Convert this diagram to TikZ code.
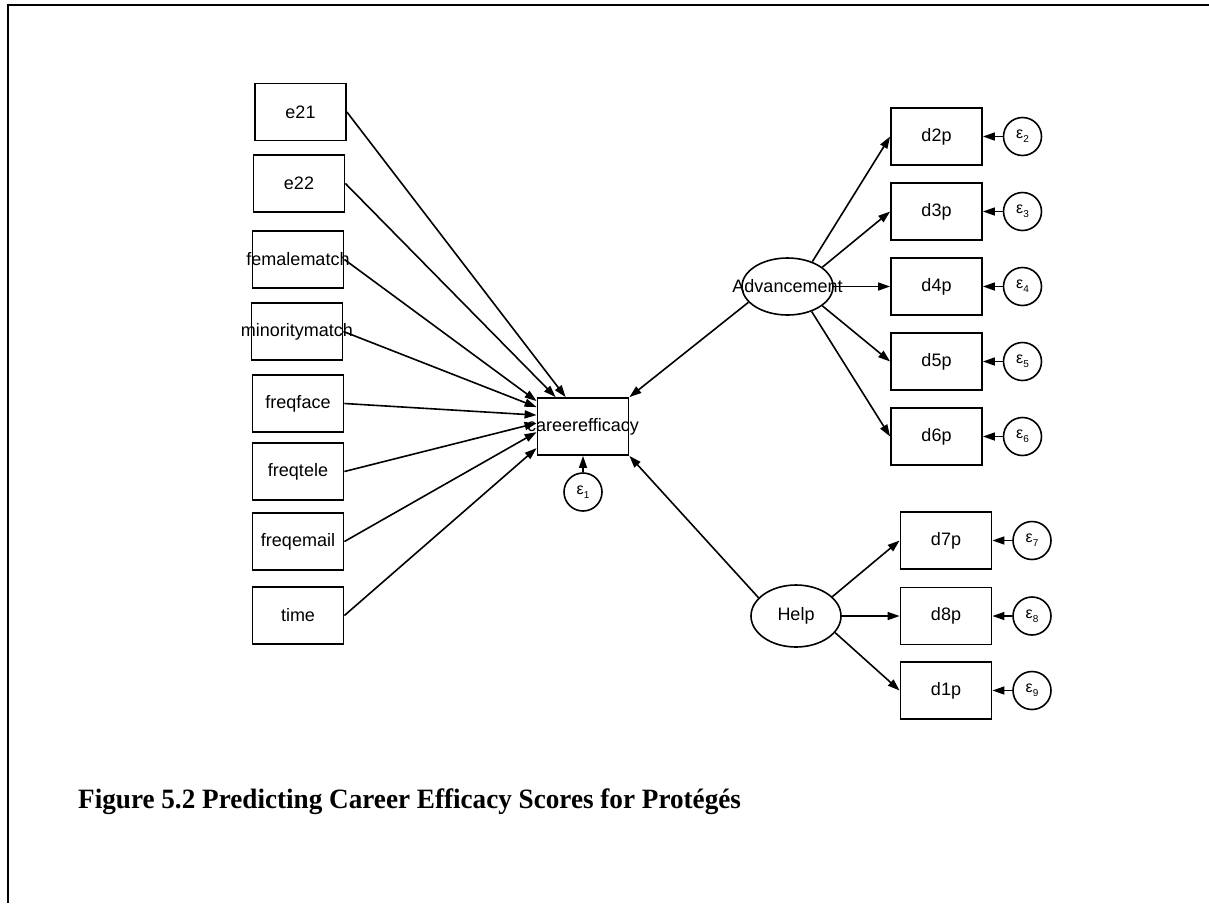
\documentclass[tikz,border=0pt]{standalone}
\usepackage{graphicx}
\usepackage{fontspec}
\setmainfont{Liberation Sans}
\newfontfamily\titlefont{Liberation Serif}
\usetikzlibrary{shapes.geometric,arrows.meta,calc}
% error term label: epsilon with a subscript index
\newcommand\errlbl[1]{{\fontsize{16}{16}\selectfont ε\kern0.3pt\raisebox{-4pt}{\fontsize{10}{10}\selectfont #1}}}
\begin{document}
\begin{tikzpicture}[x=1pt,y=-1pt,
  obs/.style={draw,rectangle,line width=1.8pt,minimum width=91pt,minimum height=57pt,inner sep=0pt},
  lat/.style={draw,ellipse,line width=1.6pt,minimum width=91pt,minimum height=57pt,inner sep=0pt},
  err/.style={draw,circle,line width=1.6pt,minimum size=38pt,inner sep=0pt},
  lbl/.style={font=\fontsize{18}{18}\selectfont,inner sep=0pt},
  conn/.style={line width=1.6pt,-{Triangle[length=12pt,width=8pt]}},
]
\useasboundingbox (0,0) rectangle (1209,903);
% frame
\draw[line width=2pt] (8,903) -- (8,5) -- (1209,5);

% exogenous observed predictors
\node[obs,label={[lbl]center:e21}] (e21) at (300.5,112) {};
\node[obs,label={[lbl]center:e22}] (e22) at (299,183.5) {};
\node[obs,label={[lbl]center:femalematch}] (fm) at (298,259.5) {};
\node[obs,label={[lbl]center:minoritymatch}] (mm) at (297,331.5) {};
\node[obs,label={[lbl]center:freqface}] (ff) at (298,403.5) {};
\node[obs,label={[lbl]center:freqtele}] (ft) at (298,471.5) {};
\node[obs,label={[lbl]center:freqemail}] (fe) at (298,541.5) {};
\node[obs,label={[lbl]center:time}] (tm) at (298,615.5) {};

% outcome and its error
\node[obs,label={[lbl]center:careerefficacy}] (ce) at (583,426.5) {};
\node[err] (eps1) at (583,492) {\errlbl{1}};

% latent factors
\node[lat,label={[lbl]center:Advancement}] (adv) at (787.5,286.5) {};
\node[lat,minimum width=90pt,minimum height=62pt,label={[lbl]center:Help}] (help) at (796,616) {};

% indicators of Advancement
\node[obs,label={[lbl]center:d2p}] (d2p) at (936.5,136.5) {};
\node[obs,label={[lbl]center:d3p}] (d3p) at (936.5,211.5) {};
\node[obs,label={[lbl]center:d4p}] (d4p) at (936.5,286.5) {};
\node[obs,label={[lbl]center:d5p}] (d5p) at (936.5,361.5) {};
\node[obs,label={[lbl]center:d6p}] (d6p) at (936.5,436.5) {};
\node[err] (eps2) at (1022.5,136.5) {\errlbl{2}};
\node[err] (eps3) at (1022.5,211.5) {\errlbl{3}};
\node[err] (eps4) at (1022.5,286.5) {\errlbl{4}};
\node[err] (eps5) at (1022.5,361.5) {\errlbl{5}};
\node[err] (eps6) at (1022.5,436.5) {\errlbl{6}};

% indicators of Help
\node[obs,label={[lbl]center:d7p}] (d7p) at (946,540.5) {};
\node[obs,label={[lbl]center:d8p}] (d8p) at (946,616) {};
\node[obs,label={[lbl]center:d1p}] (d1p) at (946,690.5) {};
\node[err] (eps7) at (1032,540.5) {\errlbl{7}};
\node[err] (eps8) at (1032,616) {\errlbl{8}};
\node[err] (eps9) at (1032,690.5) {\errlbl{9}};

% paths into careerefficacy
\draw[conn] (e21.east) -- ($(ce.north west)+(29,0)$);
\draw[conn] (e22.east) -- ($(ce.north west)+(19,0)$);
\draw[conn] (fm.east) -- ($(ce.north west)+(0,4)$);
\draw[conn] (mm.east) -- ($(ce.north west)+(0,10)$);
\draw[conn] (ff.east) -- ($(ce.north west)+(0,18)$);
\draw[conn] (ft.east) -- ($(ce.north west)+(0,26)$);
\draw[conn] (fe.east) -- ($(ce.north west)+(0,35)$);
\draw[conn] (tm.east) -- ($(ce.north west)+(0,51)$);
\draw[conn] (adv.202) -- (ce.north east);
\draw[conn] (help.154) -- (ce.south east);
\draw[conn] (eps1) -- (ce);

% measurement paths
\draw[conn] (adv.45) -- (d2p.west);
\draw[conn] (adv.29) -- (d3p.west);
\draw[conn] (adv.0) -- (d4p.west);
\draw[conn] (adv.331) -- (d5p.west);
\draw[conn] (adv.314) -- (d6p.west);
\draw[conn] (help.28) -- (d7p.west);
\draw[conn] (help.0) -- (d8p.west);
\draw[conn] (help.337) -- (d1p.west);

% error terms of the indicators
\foreach \e/\d in {eps2/d2p,eps3/d3p,eps4/d4p,eps5/d5p,eps6/d6p,eps7/d7p,eps8/d8p,eps9/d1p}
  \draw[conn] (\e) -- (\d);

% caption
\node[anchor=base west,inner sep=0pt] (title) at (78,808)
  {\titlefont\bfseries\fontsize{28}{28}\selectfont\scalebox{0.97}[1]{Figure 5.2 Predicting Career Efficacy Scores for Protégés}};
\end{tikzpicture}
\end{document}
